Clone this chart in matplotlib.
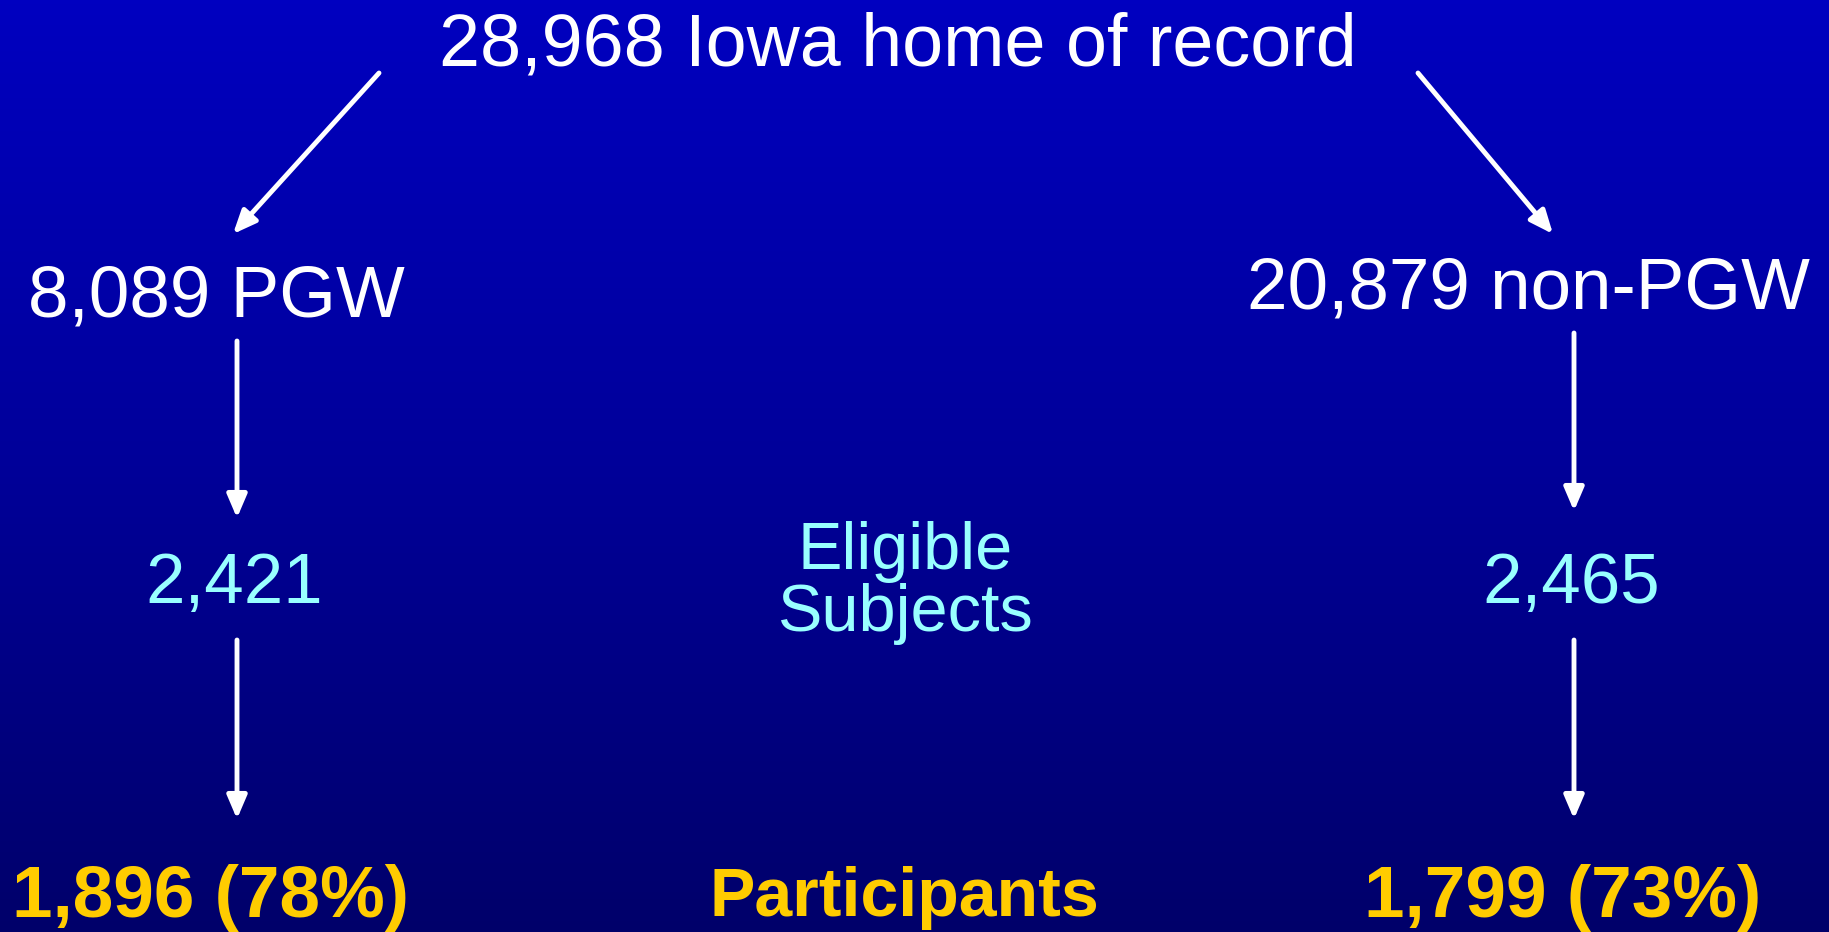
import numpy as np
import matplotlib.pyplot as plt
from matplotlib.colors import LinearSegmentedColormap

plt.rcParams['font.family'] = ['Liberation Sans', 'DejaVu Sans']

# flowchart values
total = 28968
groups = ['PGW', 'non-PGW']
group_n = [8089, 20879]
eligible_n = [2421, 2465]
participant_n = [1896, 1799]
participant_pct = [78, 73]

W, H = 1829, 932
fig = plt.figure(figsize=(W / 100, H / 100), dpi=100)
ax = fig.add_axes([0, 0, 1, 1])
ax.set_xlim(0, W)
ax.set_ylim(H, 0)
ax.axis('off')

# vertical blue gradient background
cmap = LinearSegmentedColormap.from_list('bg', ['#0000C0', '#000099', '#00006A'])
grad = np.linspace(0, 1, 256).reshape(-1, 1)
ax.imshow(grad, cmap=cmap, aspect='auto', extent=[0, W, H, 0], zorder=0)

white = 'white'
cyan = '#99FFFF'
gold = '#FFCC00'

ax.text(898, 46, f'{total:,} Iowa home of record', color=white, fontsize=53,
        ha='center', va='center')

col_x = [216, 1528]
col_arrow_x = [237, 1574]
group_y = [298, 290]
part_x = [210, 1563]
for i in range(2):
    ax.text(col_x[i], group_y[i], f'{group_n[i]:,} {groups[i]}',
            color=white, fontsize=52.5, ha='center', va='center')
    ax.text(col_arrow_x[i] - 3, 585, f'{eligible_n[i]:,}', color=cyan,
            fontsize=51, ha='center', va='center')
    ax.text(part_x[i], 898,
            f'{participant_n[i]:,} ({participant_pct[i]}%)', color=gold,
            fontsize=52.5, fontweight='bold', ha='center', va='center')

ax.text(905, 583, 'Eligible\nSubjects', color=cyan, fontsize=48,
        ha='center', va='center', linespacing=1.0)
ax.text(904, 898, 'Participants', color=gold, fontsize=49, fontweight='bold',
        ha='center', va='center')

arrow_kw = dict(arrowstyle='-|>,head_length=1.4,head_width=0.6', color=white,
                lw=3.5, shrinkA=0, shrinkB=0)


def arrow(x0, y0, x1, y1):
    ax.annotate('', xy=(x1, y1), xytext=(x0, y0), arrowprops=arrow_kw)


arrow(379, 73, 233, 234)
arrow(1418, 73, 1553, 234)
arrow(237, 341, 237, 518)
arrow(1574, 333, 1574, 511)
arrow(237, 640, 237, 819)
arrow(1574, 640, 1574, 819)

fig.savefig('out.png', dpi=100)
